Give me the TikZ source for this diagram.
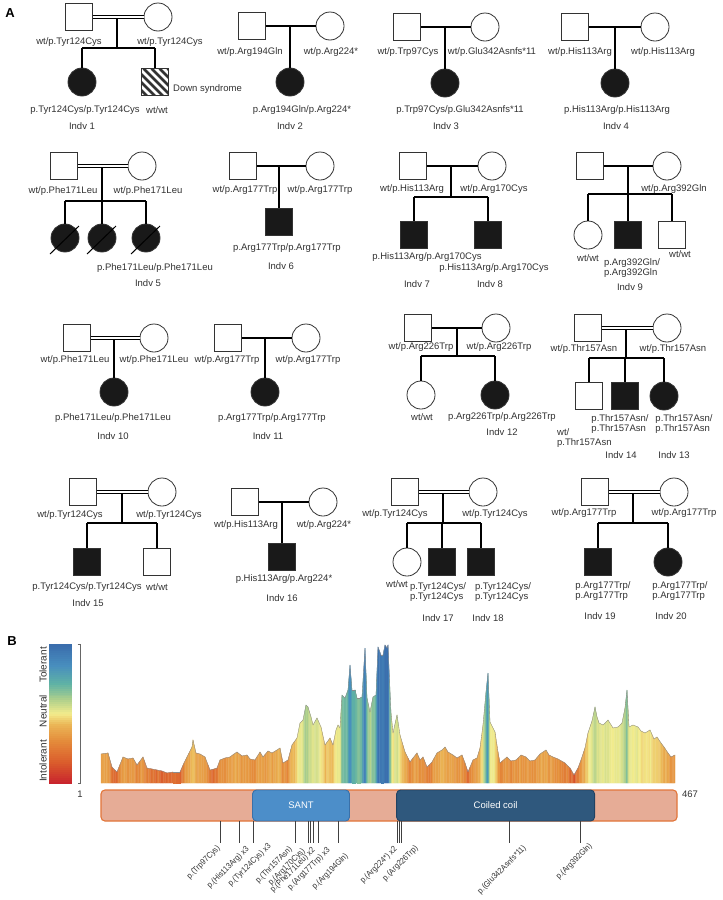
\documentclass[tikz,border=0pt]{standalone}
\usepackage{fontspec}
\setmainfont{Liberation Sans}
\newfontfamily\narrowsans[FakeStretch=0.9]{Liberation Sans}
\usetikzlibrary{shapes,calc}

\definecolor{txt}{RGB}{50,50,50}
\definecolor{tolA}{RGB}{200,35,45}
\definecolor{tolB}{RGB}{218,92,44}
\definecolor{tolC}{RGB}{228,138,58}
\definecolor{tolD}{RGB}{235,182,86}
\definecolor{tolE}{RGB}{243,236,140}
\definecolor{tolF}{RGB}{175,208,140}
\definecolor{tolG}{RGB}{95,178,165}
\definecolor{tolH}{RGB}{72,142,190}
\definecolor{tolI}{RGB}{58,108,172}
\definecolor{protfill}{RGB}{230,172,150}
\definecolor{protline}{RGB}{226,118,58}
\definecolor{santfill}{RGB}{76,142,201}
\definecolor{santline}{RGB}{58,112,168}
\definecolor{coilfill}{RGB}{47,88,125}
\definecolor{coilline}{RGB}{33,66,98}

\newcommand\tolmix[4]{\pgfmathtruncatemacro\tolp{min(100,max(0,100*(\tolh-#1)/(#2-#1)))}\colorlet{tolc}{#4!\tolp!#3}}
\newcommand\tolcol[9]{\pgfmathsetmacro\tolh{#1}%
\ifdim\tolh pt<#2pt \tolmix{0}{#2}{tolA}{tolB}\else%
\ifdim\tolh pt<#3pt \tolmix{#2}{#3}{tolB}{tolC}\else%
\ifdim\tolh pt<#4pt \tolmix{#3}{#4}{tolC}{tolD}\else%
\ifdim\tolh pt<#5pt \tolmix{#4}{#5}{tolD}{tolE}\else%
\ifdim\tolh pt<#6pt \tolmix{#5}{#6}{tolE}{tolF}\else%
\ifdim\tolh pt<#7pt \tolmix{#6}{#7}{tolF}{tolG}\else%
\ifdim\tolh pt<#8pt \tolmix{#7}{#8}{tolG}{tolH}\else%
\tolmix{#8}{#9}{tolH}{tolI}\fi\fi\fi\fi\fi\fi\fi}
\newcommand\barcol[1]{\tolcol{#1}{21}{42}{59}{70}{84}{101}{119}{140}}
\newcommand\profcol[1]{\tolcol{#1}{8}{20}{38}{54}{76}{92}{112}{140}}

\def\profile{101/29,108/30,112/16,117/11,123/26,128/24,133/25,137/18,143/26,147/15,152/14,157/13,162/12,167/10,173/11,180/11,184/20,187/26,192/36,193/43,196/30,200/29,205/26,210/13,214/14,217/15,220/23,225/25,230/26,234/29,237/31,242/27,247/28,250/24,255/23,260/31,263/26,268/32,272/30,277/33,280/35,283/20,288/23,292/38,297/45,300/60,303/63,306/78,308/76,311/66,313/58,317/65,321/56,325/38,330/45,333/38,336/53,338/58,340/55,342/88,345/85,348/93,350/118,352/93,355/93,357/85,360/85,362/86,365/135,367/85,370/71,373/86,376/88,378/136,381/128,383/128,385/138,387/135,388/138,391/70,393/50,397/68,400/48,405/31,410/21,413/25,417/30,420/23,423/26,427/16,432/21,437/30,442/33,445/36,448/31,453/28,457/25,462/28,465/20,468/11,473/23,477/25,480/35,483/58,486/91,488/110,490/61,495/51,498/31,500/20,507/26,511/22,516/23,521/28,526/26,530/22,535/23,540/29,546/33,549/28,553/26,558/24,565/20,570/15,574/8,578/15,581/23,585/35,588/50,592/62,595/76,597/66,599/60,603/58,608/63,613/55,618/56,622/60,625/75,627/93,629/56,633/58,638/56,641/52,645/50,650/53,654/44,657/46,661/40,664/36,668/30,671/26,675/28}

\begin{document}
\begin{tikzpicture}[x=1pt,y=-1pt,
  male/.style={draw=black!80,line width=0.8pt,fill=white,minimum size=27pt,inner sep=0pt},
  female/.style={male,circle,minimum size=28pt},
  aff/.style={fill=black!90},
  hatch/.style={path picture={\foreach \d in {-30,-22,...,30} \draw[line width=2.8pt] ([xshift=\d pt]path picture bounding box.north west) -- ++(32,32);}},
  ln/.style={line width=1.1pt},
  cons/.style={double,double distance=2.2pt,line width=0.75pt},
  dead/.style={line width=1pt},
  gt/.style={text=txt,font=\fontsize{9.5}{10.5}\selectfont,inner sep=0pt,align=left},
  tag/.style={font=\bfseries\fontsize{13}{13}\selectfont,inner sep=0pt},
  mut/.style={text=txt,font=\narrowsans\fontsize{8.3}{8.3}\selectfont,rotate=45,anchor=east,inner sep=0pt},
  tollab/.style={text=txt,font=\fontsize{10}{10}\selectfont,rotate=90,inner sep=0pt},
  tick/.style={draw=black!75,line width=0.9pt},
  outl/.style={draw=black!45,line width=0.35pt}]
\fill[white] (0,0) rectangle (723,900);
\useasboundingbox (0,0) rectangle (723,900);
\pgfmathsetseed{11}

\node[tag] (A) at (10,13) {A};
\node[male] (f1) at (79,17) {};
\node[female] (m1) at (158,17) {};
\coordinate (u1) at (117,17);
\coordinate (s1) at (117,48);
\node[female,aff] (c1a) at (82,82) {};
\node[male,hatch] (c1b) at (155,82) {};
\draw[ln] (u1) -- (s1) (c1a |- s1) -- (c1b |- s1) (c1a |- s1) -- (c1a) (c1b |- s1) -- (c1b);
\draw[cons] (f1) -- (m1);
\node[gt] (f1t) at (69,42) {wt/p.Tyr124Cys};
\node[gt] (m1t) at (170,42) {wt/p.Tyr124Cys};
\node[gt] (c1at) at (85,110) {p.Tyr124Cys/p.Tyr124Cys};
\node[gt] (c1bt) at (157,110) {wt/wt};
\node[gt,anchor=west] (c1bn) at (173,89) {Down syndrome};
\node[gt] (i1) at (82,126) {Indv 1};

\node[male] (f2) at (252,26) {};
\node[female] (m2) at (330,26) {};
\coordinate (u2) at (290,26);
\node[female,aff] (c2) at (290,82) {};
\draw[ln] (f2) -- (m2) (u2) -- (c2);
\node[gt] (f2t) at (250,52) {wt/p.Arg194Gln};
\node[gt] (m2t) at (331,52) {wt/p.Arg224*};
\node[gt] (c2t) at (302,110) {p.Arg194Gln/p.Arg224*};
\node[gt] (i2) at (290,126) {Indv 2};

\node[male] (f3) at (407,27) {};
\node[female] (m3) at (485,27) {};
\coordinate (u3) at (445,27);
\node[female,aff] (c3) at (445,83) {};
\draw[ln] (f3) -- (m3) (u3) -- (c3);
\node[gt] (f3t) at (408,52) {wt/p.Trp97Cys};
\node[gt] (m3t) at (492,52) {wt/p.Glu342Asnfs*11};
\node[gt] (c3t) at (460,110) {p.Trp97Cys/p.Glu342Asnfs*11};
\node[gt] (i3) at (446,126) {Indv 3};

\node[male] (f4) at (575,27) {};
\node[female] (m4) at (655,27) {};
\coordinate (u4) at (615,27);
\node[female,aff] (c4) at (615,83) {};
\draw[ln] (f4) -- (m4) (u4) -- (c4);
\node[gt] (f4t) at (580,52) {wt/p.His113Arg};
\node[gt] (m4t) at (663,52) {wt/p.His113Arg};
\node[gt] (c4t) at (617,110) {p.His113Arg/p.His113Arg};
\node[gt] (i4) at (616,126) {Indv 4};

\node[male] (f5) at (64,166) {};
\node[female] (m5) at (142,166) {};
\coordinate (u5) at (102,166);
\coordinate (s5) at (102,201);
\node[female,aff] (c5a) at (65,238) {};
\node[female,aff] (c5b) at (102,238) {};
\node[female,aff] (c5c) at (146,238) {};
\draw[ln] (u5) -- (s5) (c5a |- s5) -- (c5c |- s5) (c5a |- s5) -- (c5a) (c5b |- s5) -- (c5b) (c5c |- s5) -- (c5c);
\draw[cons] (f5) -- (m5);
\foreach \c in {c5a,c5b,c5c} \draw[dead] ([shift={(-15,16)}]\c.center) -- ([shift={(14,-12)}]\c.center);
\node[gt] (f5t) at (63,191) {wt/p.Phe171Leu};
\node[gt] (m5t) at (148,191) {wt/p.Phe171Leu};
\node[gt] (c5t) at (155,268) {p.Phe171Leu/p.Phe171Leu};
\node[gt] (i5) at (148,283) {Indv 5};

\node[male] (f6) at (243,166) {};
\node[female] (m6) at (320,166) {};
\coordinate (u6) at (279,166);
\node[male,aff] (c6) at (279,222) {};
\draw[ln] (f6) -- (m6) (u6) -- (c6);
\node[gt] (f6t) at (245,190) {wt/p.Arg177Trp};
\node[gt] (m6t) at (320,190) {wt/p.Arg177Trp};
\node[gt] (c6t) at (287,248) {p.Arg177Trp/p.Arg177Trp};
\node[gt] (i6) at (281,266) {Indv 6};

\node[male] (f7) at (413,166) {};
\node[female] (m7) at (492,166) {};
\coordinate (u7) at (451,166);
\coordinate (s7) at (451,197);
\node[male,aff] (c7a) at (414,235) {};
\node[male,aff] (c7b) at (488,235) {};
\draw[ln] (f7) -- (m7) (u7) -- (s7) (c7a |- s7) -- (c7b |- s7) (c7a |- s7) -- (c7a) (c7b |- s7) -- (c7b);
\node[gt] (f7t) at (412,189) {wt/p.His113Arg};
\node[gt] (m7t) at (494,189) {wt/p.Arg170Cys};
\node[gt] (c7at) at (427,257) {p.His113Arg/p.Arg170Cys};
\node[gt] (c7bt) at (494,268) {p.His113Arg/p.Arg170Cys};
\node[gt] (i7) at (417,284) {Indv 7};
\node[gt] (i8) at (490,284) {Indv 8};

\node[male] (f9) at (590,166) {};
\node[female] (m9) at (667,166) {};
\coordinate (u9) at (628,166);
\coordinate (s9) at (628,194);
\node[female] (c9a) at (588,235) {};
\node[male,aff] (c9b) at (628,235) {};
\node[male] (c9c) at (672,235) {};
\draw[ln] (f9) -- (m9) (u9) -- (s9) (c9a |- s9) -- (c9c |- s9) (c9a |- s9) -- (c9a) (c9b |- s9) -- (c9b) (c9c |- s9) -- (c9c);
\node[gt] (m9t) at (674,189) {wt/p.Arg392Gln};
\node[gt] (c9at) at (588,258) {wt/wt};
\node[gt] (c9bt) at (632,268) {p.Arg392Gln/\\p.Arg392Gln};
\node[gt] (c9ct) at (680,254) {wt/wt};
\node[gt] (i9) at (630,287) {Indv 9};

\node[male] (f10) at (77,338) {};
\node[female] (m10) at (154,338) {};
\coordinate (u10) at (114,338);
\node[female,aff] (c10) at (114,392) {};
\draw[ln] (u10) -- (c10);
\draw[cons] (f10) -- (m10);
\node[gt] (f10t) at (75,360) {wt/p.Phe171Leu};
\node[gt] (m10t) at (154,360) {wt/p.Phe171Leu};
\node[gt] (c10t) at (113,418) {p.Phe171Leu/p.Phe171Leu};
\node[gt] (i10) at (113,436) {Indv 10};

\node[male] (f11) at (228,338) {};
\node[female] (m11) at (306,338) {};
\coordinate (u11) at (265,338);
\node[female,aff] (c11) at (265,392) {};
\draw[ln] (f11) -- (m11) (u11) -- (c11);
\node[gt] (f11t) at (227,360) {wt/p.Arg177Trp};
\node[gt] (m11t) at (308,360) {wt/p.Arg177Trp};
\node[gt] (c11t) at (272,418) {p.Arg177Trp/p.Arg177Trp};
\node[gt] (i11) at (268,436) {Indv 11};

\node[male] (f12) at (418,328) {};
\node[female] (m12) at (496,328) {};
\coordinate (u12) at (457,328);
\coordinate (s12) at (457,356);
\node[female] (c12a) at (421,395) {};
\node[female,aff] (c12b) at (495,395) {};
\draw[ln] (f12) -- (m12) (u12) -- (s12) (c12a |- s12) -- (c12b |- s12) (c12a |- s12) -- (c12a) (c12b |- s12) -- (c12b);
\node[gt] (f12t) at (421,347) {wt/p.Arg226Trp};
\node[gt] (m12t) at (499,347) {wt/p.Arg226Trp};
\node[gt] (c12at) at (422,417) {wt/wt};
\node[gt] (c12bt) at (502,417) {p.Arg226Trp/p.Arg226Trp};
\node[gt] (i12) at (502,432) {Indv 12};

\node[male] (f13) at (588,328) {};
\node[female] (m13) at (667,328) {};
\coordinate (u13) at (626,328);
\coordinate (s13) at (626,358);
\node[male] (c13a) at (589,396) {};
\node[male,aff] (c13b) at (625,396) {};
\node[female,aff] (c13c) at (664,396) {};
\draw[ln] (u13) -- (s13) (c13a |- s13) -- (c13c |- s13) (c13a |- s13) -- (c13a) (c13b |- s13) -- (c13b) (c13c |- s13) -- (c13c);
\draw[cons] (f13) -- (m13);
\node[gt] (f13t) at (584,349) {wt/p.Thr157Asn};
\node[gt] (m13t) at (673,349) {wt/p.Thr157Asn};
\node[gt,anchor=west] (c13at) at (557,438) {wt/\\p.Thr157Asn};
\node[gt] (c13bt) at (620,424) {p.Thr157Asn/\\p.Thr157Asn};
\node[gt] (c13ct) at (684,424) {p.Thr157Asn/\\p.Thr157Asn};
\node[gt] (i14) at (621,455) {Indv 14};
\node[gt] (i13) at (674,455) {Indv 13};

\node[male] (f15) at (83,492) {};
\node[female] (m15) at (162,492) {};
\coordinate (u15) at (122,492);
\coordinate (s15) at (122,523);
\node[male,aff] (c15a) at (87,562) {};
\node[male] (c15b) at (157,562) {};
\draw[ln] (u15) -- (s15) (c15a |- s15) -- (c15b |- s15) (c15a |- s15) -- (c15a) (c15b |- s15) -- (c15b);
\draw[cons] (f15) -- (m15);
\node[gt] (f15t) at (70,515) {wt/p.Tyr124Cys};
\node[gt] (m15t) at (169,515) {wt/p.Tyr124Cys};
\node[gt] (c15at) at (87,587) {p.Tyr124Cys/p.Tyr124Cys};
\node[gt] (c15bt) at (157,587) {wt/wt};
\node[gt] (i15) at (88,603) {Indv 15};

\node[male] (f16) at (245,502) {};
\node[female] (m16) at (323,502) {};
\coordinate (u16) at (282,502);
\node[male,aff] (c16) at (282,557) {};
\draw[ln] (f16) -- (m16) (u16) -- (c16);
\node[gt] (f16t) at (246,525) {wt/p.His113Arg};
\node[gt] (m16t) at (324,525) {wt/p.Arg224*};
\node[gt] (c16t) at (284,579) {p.His113Arg/p.Arg224*};
\node[gt] (i16) at (282,598) {Indv 16};

\node[male] (f17) at (405,492) {};
\node[female] (m17) at (483,492) {};
\coordinate (u17) at (443,492);
\coordinate (s17) at (443,523);
\node[female] (c17a) at (407,562) {};
\node[male,aff] (c17b) at (442,562) {};
\node[male,aff] (c17c) at (481,562) {};
\draw[ln] (u17) -- (s17) (c17a |- s17) -- (c17c |- s17) (c17a |- s17) -- (c17a) (c17b |- s17) -- (c17b) (c17c |- s17) -- (c17c);
\draw[cons] (f17) -- (m17);
\node[gt] (f17t) at (395,514) {wt/p.Tyr124Cys};
\node[gt] (m17t) at (495,514) {wt/p.Tyr124Cys};
\node[gt] (c17at) at (397,584) {wt/wt};
\node[gt] (c17bt) at (438,592) {p.Tyr124Cys/\\p.Tyr124Cys};
\node[gt] (c17ct) at (503,592) {p.Tyr124Cys/\\p.Tyr124Cys};
\node[gt] (i17) at (438,618) {Indv 17};
\node[gt] (i18) at (488,618) {Indv 18};

\node[male] (f19) at (595,492) {};
\node[female] (m19) at (674,492) {};
\coordinate (u19) at (633,492);
\coordinate (s19) at (633,523);
\node[male,aff] (c19a) at (598,562) {};
\node[female,aff] (c19b) at (668,562) {};
\draw[ln] (u19) -- (s19) (c19a |- s19) -- (c19b |- s19) (c19a |- s19) -- (c19a) (c19b |- s19) -- (c19b);
\draw[cons] (f19) -- (m19);
\node[gt] (f19t) at (584,513) {wt/p.Arg177Trp};
\node[gt] (m19t) at (684,513) {wt/p.Arg177Trp};
\node[gt] (c19at) at (603,591) {p.Arg177Trp/\\p.Arg177Trp};
\node[gt] (c19bt) at (680,591) {p.Arg177Trp/\\p.Arg177Trp};
\node[gt] (i19) at (600,616) {Indv 19};
\node[gt] (i20) at (671,616) {Indv 20};

\node[tag] (B) at (12,641) {B};
\foreach \k in {0,...,69} {
  \pgfmathsetmacro\ya{783-\k*139/70}
  \pgfmathsetmacro\yb{783-(\k+1)*139/70}
  \barcol{2*\k+1}
  \fill[tolc,draw=tolc,line width=0.3pt] (49,\ya) rectangle (71,\yb);
}
\node[tollab] (tol) at (43,665) {Tolerant};
\node[tollab] (neu) at (43,711) {Neutral};
\node[tollab] (int) at (43,761) {Intolerant};
\coordinate (bt) at (80.5,644);
\coordinate (bb) at (80.5,783);
\draw[black!60,line width=0.8pt] ([xshift=-3pt]bt) -- (bt) -- (bb) -- ([xshift=-3pt]bb);

\foreach \px/\ph [remember=\px as \qx (initially 101),remember=\ph as \qh (initially 29)] in \profile {
  \pgfmathtruncatemacro\nn{max(1,ceil((\px-\qx)/1.8))}
  \foreach \k in {1,...,\nn} {
    \pgfmathsetmacro\xa{\qx+(\px-\qx)*(\k-1)/\nn}
    \pgfmathsetmacro\xb{\qx+(\px-\qx)*\k/\nn}
    \pgfmathsetmacro\ha{\qh+(\ph-\qh)*(\k-1)/\nn}
    \pgfmathsetmacro\hb{\qh+(\ph-\qh)*\k/\nn}
    \profcol{(\ha+\hb)/2+4*rand}
    \fill[tolc,draw=tolc,line width=0.25pt] (\xa,783) -- (\xa,{783-\ha}) -- (\xb,{783-\hb}) -- (\xb,783) -- cycle;
  }
}
\foreach \px/\ph [remember=\px as \qx (initially 101),remember=\ph as \qh (initially 29)] in \profile
  \draw[outl] (\qx,{783-\qh}) -- (\px,{783-\ph});

\node[draw=protline,fill=protfill,line width=1.1pt,rounded corners=4pt,minimum width=576pt,minimum height=31pt,inner sep=0pt] (prot) at (389,805.5) {};
\node[draw=santline,fill=santfill,line width=0.9pt,rounded corners=4pt,minimum width=97pt,minimum height=31pt,inner sep=0pt,text=white,font=\fontsize{9.5}{9.5}\selectfont] (sant) at (301,805.5) {SANT};
\node[draw=coilline,fill=coilfill,line width=0.9pt,rounded corners=4pt,minimum width=198pt,minimum height=31pt,inner sep=0pt,text=white,font=\fontsize{9.5}{9.5}\selectfont] (coil) at (495.6,805.5) {Coiled coil};
\node[gt] (n1) at (80,794) {1};
\node[gt] (n467) at (690,794) {467};

\coordinate (tb) at (0,843);
\foreach \t [count=\i] in {220,239,253,295,308,310,313,318,338,397.6,399.4,401,509.5,580} {
  \coordinate (t\i) at (\t,821);
  \draw[tick] (t\i) -- (t\i |- tb);
}
\node[mut] (v1) at (219,847) {p.(Trp97Cys)};
\node[mut] (v2) at (248,848) {p.(His113Arg) x3};
\node[mut] (v3) at (270,845) {p.(Tyr124Cys) x3};
\node[mut] (v4) at (291,848) {p.(Thr157Asn)};
\node[mut] (v5) at (304,850) {p.(Arg170Cys)};
\node[mut] (v6) at (314,849) {p.(Phe171Leu) x2};
\node[mut] (v7) at (329,849) {p.(Arg177Trp) x3};
\node[mut] (v8) at (347,855) {p.(Arg194Gln)};
\node[mut] (v9) at (396,848) {p.(Arg224*) x2};
\node[mut] (v10) at (417,847) {p.(Arg226Trp)};
\node[mut] (v11) at (525,847) {p.(Glu342Asnfs*11)};
\node[mut] (v12) at (591,845) {p.(Arg392Gln)};
\end{tikzpicture}
\end{document}
